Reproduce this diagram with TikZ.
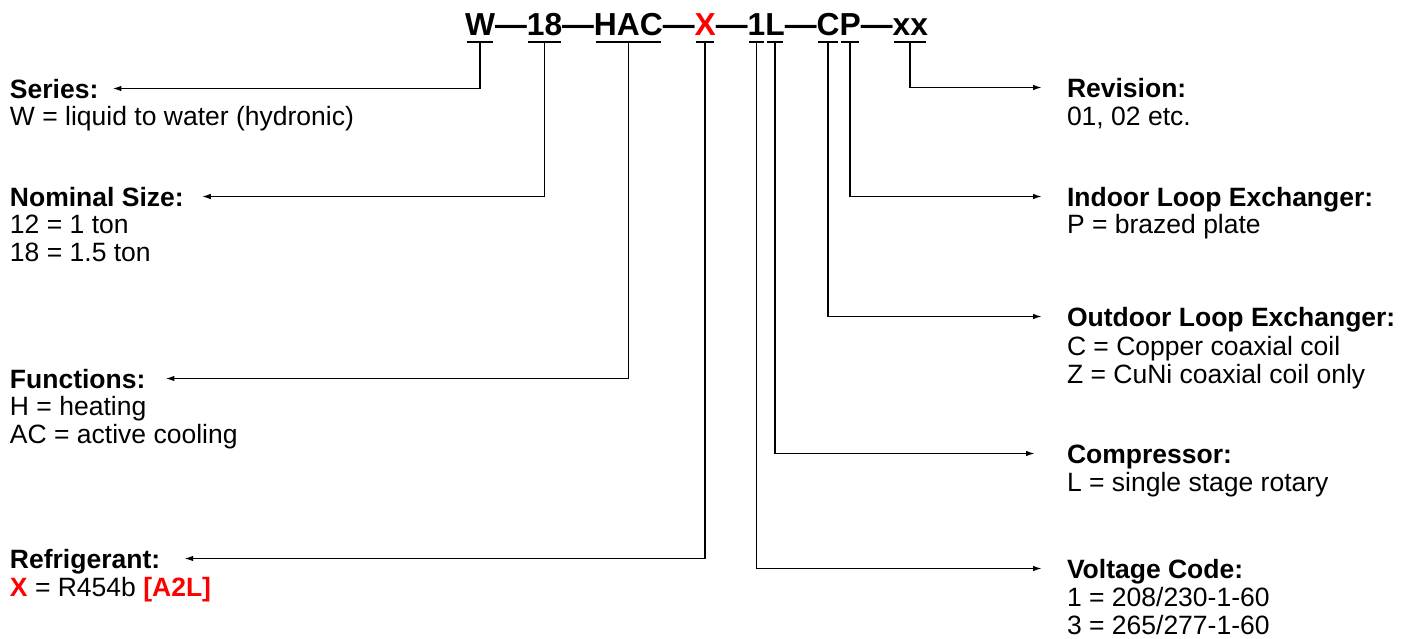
\documentclass[tikz,border=0pt]{standalone}
\usepackage{fontspec}
\setmainfont{Liberation Sans}
\usetikzlibrary{arrows.meta,calc}
\definecolor{codered}{RGB}{255,0,0}
\tikzset{
  body/.style={anchor=base west, inner sep=0pt, outer sep=0pt, font=\fontsize{13.25pt}{14pt}\selectfont},
  head/.style={anchor=base west, inner sep=0pt, outer sep=0pt, font=\fontsize{13.25pt}{14pt}\selectfont\bfseries, text height=9.5pt, text depth=0pt},
  code/.style={anchor=base west, inner sep=0pt, outer sep=0pt, font=\fontsize{15.9pt}{18pt}\selectfont\bfseries, text height=11.4pt, text depth=3.5pt},
  bar/.style={line width=0.8pt},
  lead/.style={line width=0.8pt, -{Latex[length=4.5pt,width=2.8pt]}},
}
\begin{document}
\begin{tikzpicture}[x=0.5pt,y=-0.5pt]
\useasboundingbox (0,0) rectangle (1413,638);
% code line
\node[code] (cW) at (465,35) {W};
\node[code] (d1) at (cW.base east) {—};
\node[code] (c18) at (d1.base east) {18};
\node[code] (d2) at (c18.base east) {—};
\node[code] (cHAC) at (d2.base east) {HAC};
\node[code] (d3) at (cHAC.base east) {—};
\node[code, text=codered] (cX) at (d3.base east) {X};
\node[code] (d4) at (cX.base east) {—};
\node[code] (c1) at (d4.base east) {1};
\node[code] (cL) at (c1.base east) {L};
\node[code] (d5) at (cL.base east) {—};
\node[code] (cC) at (d5.base east) {C};
\node[code] (cP) at (cC.base east) {P};
\node[code] (d6) at (cP.base east) {—};
\node[code] (cxx) at (d6.base east) {xx};
\foreach \n in {cW,c18,cHAC,cX,c1,cL,cC,cP,cxx}
  \draw[bar] ([xshift=0.8pt]\n.south west) -- ([xshift=-0.8pt]\n.south east);
% left column
\node[head] (hSeries) at (10,98) {Series:};
\node[body] (bSeries) at (10,125) {W = liquid to water (hydronic)};
\node[head] (hSize) at (10,206) {Nominal Size:};
\node[body] (bSize1) at (10,233) {12 = 1 ton};
\node[body] (bSize2) at (10,261) {18 = 1.5 ton};
\node[head] (hFunc) at (10,388) {Functions:};
\node[body] (bFunc1) at (10,415) {H = heating};
\node[body] (bFunc2) at (10,443) {AC = active cooling};
\node[head] (hRef) at (10,568) {Refrigerant:};
\node[body] (bRef) at (10,596) {\textbf{\color{codered}X} = R454b \textbf{\color{codered}[A2L]}};
% right column
\node[head] (hRev) at (1067,97) {Revision:};
\node[body] (bRev) at (1067,125) {01, 02 etc.};
\node[head] (hIn) at (1067,206) {Indoor Loop Exchanger:};
\node[body] (bIn) at (1067,233) {P = brazed plate};
\node[head] (hOut) at (1067,326) {Outdoor Loop Exchanger:};
\node[body] (bOut1) at (1067,355) {C = Copper coaxial coil};
\node[body] (bOut2) at (1067,383) {Z = CuNi coaxial coil only};
\node[head] (hComp) at (1067,463) {Compressor:};
\node[body] (bComp) at (1067,491) {L = single stage rotary};
\node[head] (hVolt) at (1067,578) {Voltage Code:};
\node[body] (bVolt1) at (1067,606) {1 = 208/230-1-60};
\node[body] (bVolt2) at (1067,634) {3 = 265/277-1-60};
% leaders
\draw[lead, shorten >=7pt] (cW.south) |- (hSeries.east);
\draw[lead, shorten >=9pt] (c18.south) |- (hSize.east);
\draw[lead, shorten >=10pt] (cHAC.south) |- (hFunc.east);
\draw[lead, shorten >=12pt] (cX.south) |- (hRef.east);
\draw[lead, shorten >=12.5pt] (cxx.south) |- (hRev.west);
\draw[lead, shorten >=12.5pt] (cP.south) |- (hIn.west);
\draw[lead, shorten >=12.5pt] (cC.south) |- (hOut.west);
\draw[lead, shorten >=16pt] (cL.south) |- (hComp.west);
\draw[lead, shorten >=12.5pt] (c1.south) |- (hVolt.west);
\end{tikzpicture}
\end{document}
